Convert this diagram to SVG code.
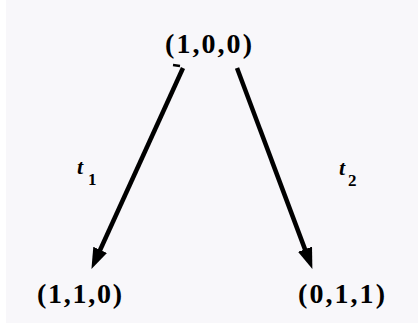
<svg xmlns="http://www.w3.org/2000/svg" width="418" height="324" viewBox="0 0 418 324">
<style>
.lbl{font-family:"Liberation Serif","Times New Roman",serif;font-weight:bold;font-size:28px;fill:#000}
.t{font-family:"Liberation Serif","Times New Roman",serif;font-weight:bold;font-style:italic;font-size:22px;fill:#000}
.sub{font-family:"Liberation Serif","Times New Roman",serif;font-weight:bold;font-size:17px;fill:#000}
.edge{stroke:#000;stroke-width:4.5;fill:none;marker-end:url(#ah)}
</style>
<defs>
<marker id="ah" markerUnits="userSpaceOnUse" markerWidth="22" markerHeight="16" refX="10" refY="7.5" orient="auto">
<path d="M0,0 L21,7.5 L0,15 Z" fill="#000"/>
</marker>
</defs>
<rect width="418" height="324" fill="#ffffff"/>
<rect x="6" y="0" width="412" height="323" fill="#f8f7fa"/>
<g id="edges">
<line class="edge" x1="183" y1="68" x2="96" y2="259"/>
<line class="edge" x1="237" y1="68" x2="308.5" y2="258.6"/>
<line x1="173" y1="65" x2="180" y2="66" stroke="#000" stroke-width="2.5"/>
<g id="label-t1"><text class="t" x="77" y="174">t</text><text class="sub" x="88" y="185">1</text></g>
<g id="label-t2"><text class="t" x="339" y="175">t</text><text class="sub" x="348" y="186">2</text></g>
</g>
<g id="n100"><text class="lbl" x="165" y="53" textLength="87" lengthAdjust="spacing">(1,0,0)</text></g>
<g id="n110"><text class="lbl" x="37" y="303" textLength="85" lengthAdjust="spacing">(1,1,0)</text></g>
<g id="n011"><text class="lbl" x="298" y="303" textLength="87" lengthAdjust="spacing">(0,1,1)</text></g>
</svg>
